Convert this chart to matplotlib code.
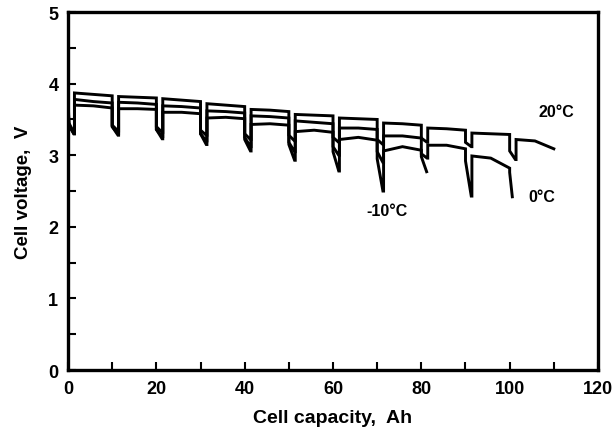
import matplotlib
matplotlib.use("Agg")
import matplotlib.pyplot as plt
import numpy as np

plt.rcParams['font.family'] = ['Liberation Sans', 'DejaVu Sans']
plt.rcParams['font.weight'] = 'bold'

# ---- data ----
# pulse positions (Ah) at which a high-current pulse starts
pulse_x = [0, 10, 20, 30, 40, 50, 60, 70, 80, 90, 100]

# 20 °C
t20_start0 = 3.82
t20_drop = [3.45, 3.42, 3.40, 3.35, 3.30, 3.28, 3.25, 3.22, 3.24, 3.18, 3.06]
t20_min = [3.32, 3.34, 3.32, 3.28, 3.22, 3.20, 3.18, 3.15, 3.18, 3.12, 2.94]
t20_seg_start = [3.87, 3.82, 3.79, 3.72, 3.64, 3.57, 3.52, 3.45, 3.38, 3.31, 3.22]
t20_seg_mid = [3.85, 3.81, 3.77, 3.70, 3.63, 3.56, 3.51, 3.44, 3.37, 3.30, 3.20]
t20_seg_end = [3.83, 3.80, 3.75, 3.68, 3.61, 3.55, 3.50, 3.42, 3.35, 3.29, 3.09]

# 0 °C
t0_start0 = 3.76
t0_drop = [3.42, 3.40, 3.36, 3.30, 3.25, 3.18, 3.12, 3.05, 3.02, 2.92, 2.76]
t0_min = [3.30, 3.30, 3.26, 3.20, 3.12, 3.05, 3.00, 2.90, 2.96, 2.43, 2.42]
t0_seg_start = [3.78, 3.74, 3.69, 3.62, 3.55, 3.48, 3.38, 3.27, 3.14, 2.99]
t0_seg_mid = [3.75, 3.73, 3.68, 3.61, 3.54, 3.46, 3.38, 3.27, 3.14, 2.96]
t0_seg_end = [3.73, 3.71, 3.66, 3.59, 3.52, 3.44, 3.36, 3.24, 3.09, 2.82]

# -10 °C
tm10_start0 = 3.70
tm10_drop = [3.42, 3.40, 3.36, 3.30, 3.22, 3.15, 3.05, 2.95, 2.98]
tm10_min = [3.30, 3.28, 3.23, 3.15, 3.06, 2.93, 2.78, 2.50, 2.77]
tm10_seg_start = [3.70, 3.65, 3.60, 3.52, 3.43, 3.33, 3.22, 3.06]
tm10_seg_mid = [3.69, 3.65, 3.60, 3.53, 3.44, 3.35, 3.25, 3.12]
tm10_seg_end = [3.66, 3.64, 3.58, 3.51, 3.42, 3.32, 3.21, 3.07]

pulse_len = 1.3      # Ah of pulse
last_pulse_len = [1.3, 0.6, 1.2]   # last pulse length per curve (20, 0, -10 °C)

labels = ["20°C", "0°C", "-10°C"]
label_x = [110.5, 107.2, 72.3]
label_y = [3.61, 2.42, 2.23]


def build(start0, drop, vmin, s_start, s_mid, s_end, last_len, end_cap=None):
    xs, ys = [0.0], [start0]
    n_pulse = len(drop)
    for i in range(n_pulse):
        p = pulse_x[i]
        plen = last_len if i == n_pulse - 1 and i >= len(s_start) else pulse_len
        xs += [p + (0.2 if i == 0 else 0.0), p + plen]
        ys += [drop[i], vmin[i]]
        if i < len(s_start):
            a = p + pulse_len + 0.15
            if i + 1 < n_pulse:
                b = pulse_x[i + 1]
            else:
                b = end_cap
            xs += [a, a, (a + b) / 2, b]
            ys += [vmin[i], s_start[i], s_mid[i], s_end[i]]
    return np.array(xs), np.array(ys)


fig = plt.figure(figsize=(6.13, 4.35), dpi=100)
ax = fig.add_axes([0.111, 0.147, 0.8645, 0.823])

curves = [
    build(t20_start0, t20_drop, t20_min, t20_seg_start, t20_seg_mid, t20_seg_end, last_pulse_len[0], end_cap=110),
    build(t0_start0, t0_drop, t0_min, t0_seg_start, t0_seg_mid, t0_seg_end, last_pulse_len[1]),
    build(tm10_start0, tm10_drop, tm10_min, tm10_seg_start, tm10_seg_mid, tm10_seg_end, last_pulse_len[2]),
]
for xs, ys in curves:
    ax.plot(xs, ys, color='black', lw=2.1, solid_joinstyle='miter')

for t, lx, ly in zip(labels, label_x, label_y):
    ax.text(lx, ly, t, ha='center', va='center', fontsize=11.5, fontweight='bold')

ax.set_xlim(0, 120)
ax.set_ylim(0, 5)
ax.set_xticks(np.arange(0, 121, 20))
ax.set_xticks(np.arange(0, 121, 10), minor=True)
ax.set_yticks(np.arange(0, 6, 1))
ax.set_yticks(np.arange(0, 5.01, 0.5), minor=True)
ax.tick_params(axis='both', which='both', direction='in', top=False, right=False,
               labelsize=13, width=1.5, pad=7)
ax.tick_params(which='major', length=6)
ax.tick_params(which='minor', length=6)
for lab in ax.get_xticklabels() + ax.get_yticklabels():
    lab.set_fontweight('bold')
for s in ax.spines.values():
    s.set_linewidth(2.4)

ax.set_xlabel("Cell capacity,  Ah", fontsize=14, fontweight='bold', labelpad=9)
ax.set_ylabel("Cell voltage,  V", fontsize=13.5, fontweight='bold', labelpad=12)

fig.savefig("out.png", dpi=100)
